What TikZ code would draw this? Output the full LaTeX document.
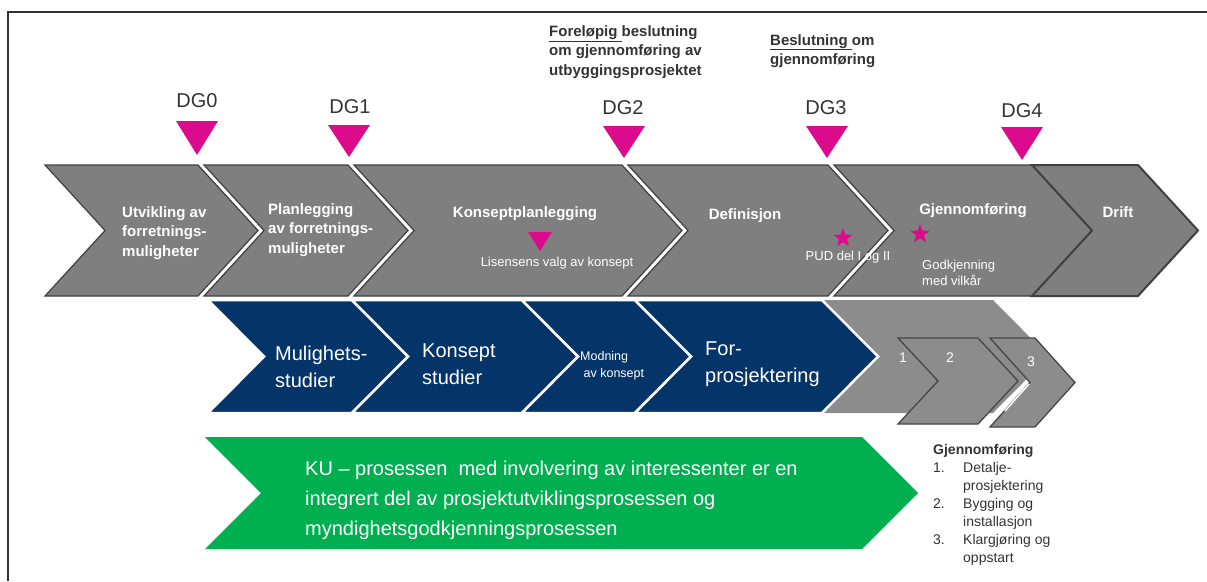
\documentclass[tikz,border=0pt]{standalone}
\usepackage{fontspec}
\setmainfont{Liberation Sans}
\usetikzlibrary{shapes.geometric}

\definecolor{phasegray}{RGB}{127,127,127}
\definecolor{phaseedge}{RGB}{64,64,64}
\definecolor{studynavy}{RGB}{4,52,104}
\definecolor{kugreen}{RGB}{0,176,80}
\definecolor{gatepink}{RGB}{220,10,140}
\definecolor{execgray}{RGB}{140,140,140}
\definecolor{notetext}{RGB}{51,51,51}

% chevron: style, left x, right x, top y, bottom y, tip depth
\newcommand{\chev}[6]{%
  \path[#1] (#2,#4) -- (#3,#4) -- ({#3+#6},{(#4+#5)/2}) -- (#3,#5)
    -- (#2,#5) -- ({#2+#6},{(#4+#5)/2}) -- cycle;}
% gate triangle: centre x, top y, half width, height
\newcommand{\gate}[4]{%
  \fill[gatepink] ({#1-#3},#2) -- ({#1+#3},#2) -- (#1,{#2+#4}) -- cycle;}

\tikzset{
  phase/.style={fill=phasegray, draw=phaseedge, line width=1.2pt, line join=miter},
  study/.style={fill=studynavy, draw=white, line width=2.5pt},
  exec/.style={fill=execgray},
  subexec/.style={fill=execgray, draw=gray!55!black, line width=1.3pt},
  phasetext/.style={text=white, font=\bfseries\fontsize{15}{19.5}\selectfont,
    align=left, inner sep=0},
  smalltext/.style={text=white, font=\fontsize{13}{15.5}\selectfont,
    align=left, inner sep=0},
  studytext/.style={text=white, font=\fontsize{20}{27}\selectfont,
    align=left, inner sep=0},
  dglabel/.style={text=notetext, font=\fontsize{20}{22}\selectfont, inner sep=0},
  decision/.style={text=notetext, font=\bfseries\fontsize{15}{19.5}\selectfont,
    align=left, inner sep=0},
  milestone/.style={star, star points=5, star point ratio=2.4, fill=gatepink,
    minimum size=20pt, inner sep=0},
}

\begin{document}
\begin{tikzpicture}[x=1pt,y=-1pt]
  \useasboundingbox (0,0) rectangle (1207,581);
  \draw[line width=1.4pt, black!80] (8,581) -- (8,12) -- (1207,12);

  % decision texts
  \node[decision, anchor=west] (prelim) at (549,52)
    {\underline{Foreløpig\ }beslutning\\om gjennomføring av\\utbyggingsprosjektet};
  \node[decision, anchor=west] (final) at (770,51)
    {\underline{Beslutning\ }om\\gjennomføring};

  % top row: phases
  \chev{phase}{45}{198}{165}{296}{60}
  \chev{phase}{204}{348}{165}{296}{60}
  \chev{phase}{354}{622}{165}{296}{60}
  \chev{phase}{628}{828}{165}{296}{60}
  \chev{phase}{834}{1032}{165}{296}{60}
  \chev{phase, line width=2pt}{1032}{1138}{165}{296}{60}

  \node[phasetext, anchor=west] (dev) at (122,233)
    {Utvikling av\\forretnings-\\muligheter};
  \node[phasetext, anchor=west] (plan) at (268,230)
    {Planlegging\\av forretnings-\\muligheter};
  \node[phasetext] (concept) at (525,214) {Konseptplanlegging};
  \node[phasetext] (define) at (745,216) {Definisjon};
  \node[phasetext] (execute) at (973,211) {Gjennomføring};
  \node[phasetext] (operate) at (1118,212) {Drift};

  \gate{540}{232}{12}{19}
  \node[smalltext] (choice) at (557,263) {Lisensens valg av konsept};
  \node[milestone] (pudstar) at (843,238) {};
  \node[smalltext] (pud) at (848,257) {PUD del I og II};
  \node[milestone] (okstar) at (920,234) {};
  \node[smalltext, anchor=west] (approval) at (922,273) {Godkjenning\\med vilkår};

  % decision gates
  \node[dglabel] (dg0) at (197,101) {DG0};
  \node[dglabel] (dg1) at (350,107) {DG1};
  \node[dglabel] (dg2) at (623,108) {DG2};
  \node[dglabel] (dg3) at (826,108) {DG3};
  \node[dglabel] (dg4) at (1022,111) {DG4};
  \gate{197}{121}{21}{34}
  \gate{349}{125}{21}{32}
  \gate{624}{126}{21}{32}
  \gate{827}{126}{21}{32}
  \gate{1022}{127}{21}{33}

  % middle row: studies
  \chev{exec}{822}{993}{300}{413}{56}
  \chev{subexec}{898}{978}{338}{424}{40}
  \chev{subexec}{990}{1035}{338}{427}{40}
  \draw[white, line width=1.5pt] (1029,384) -- (1005,411);
  \chev{study}{208}{352}{300}{413}{56}
  \chev{study}{352}{522}{300}{413}{56}
  \chev{study}{522}{635}{300}{413}{56}
  \chev{study}{635}{822}{300}{413}{56}

  \node[studytext, anchor=west] (feasible) at (275,367) {Mulighets-\\studier};
  \node[studytext, anchor=west] (conceptst) at (422,364) {Konsept\\studier};
  \node[smalltext, anchor=west, font=\fontsize{12.5}{17}\selectfont] (mature)
    at (580,366) {Modning\\\ av konsept};
  \node[studytext, anchor=west] (feed) at (705,364) {For-\\prosjektering};
  \node[smalltext, font=\fontsize{14}{16}\selectfont] (sub1) at (903,358) {1};
  \node[smalltext, font=\fontsize{14}{16}\selectfont] (sub2) at (950,358) {2};
  \node[smalltext, font=\fontsize{14}{16}\selectfont] (sub3) at (1031,362) {3};

  % bottom row: KU
  \chev{fill=kugreen}{205}{862}{437}{549}{56}
  \node[studytext, anchor=west, font=\fontsize{20}{30}\selectfont] (ku) at (305,500)
    {KU -- prosessen \ med involvering av interessenter er en\\
     integrert del av prosjektutviklingsprosessen og\\
     myndighetsgodkjenningsprosessen};

  % execution list
  \node[anchor=north west, align=left, inner sep=0, text=notetext,
    font=\fontsize{14}{18}\selectfont] (steps) at (933,444)
    {\textbf{Gjennomføring}\\
     \makebox[30pt][l]{1.}Detalje-\\
     \makebox[30pt][l]{}prosjektering\\
     \makebox[30pt][l]{2.}Bygging og\\
     \makebox[30pt][l]{}installasjon\\
     \makebox[30pt][l]{3.}Klargjøring og\\
     \makebox[30pt][l]{}oppstart};
\end{tikzpicture}
\end{document}
